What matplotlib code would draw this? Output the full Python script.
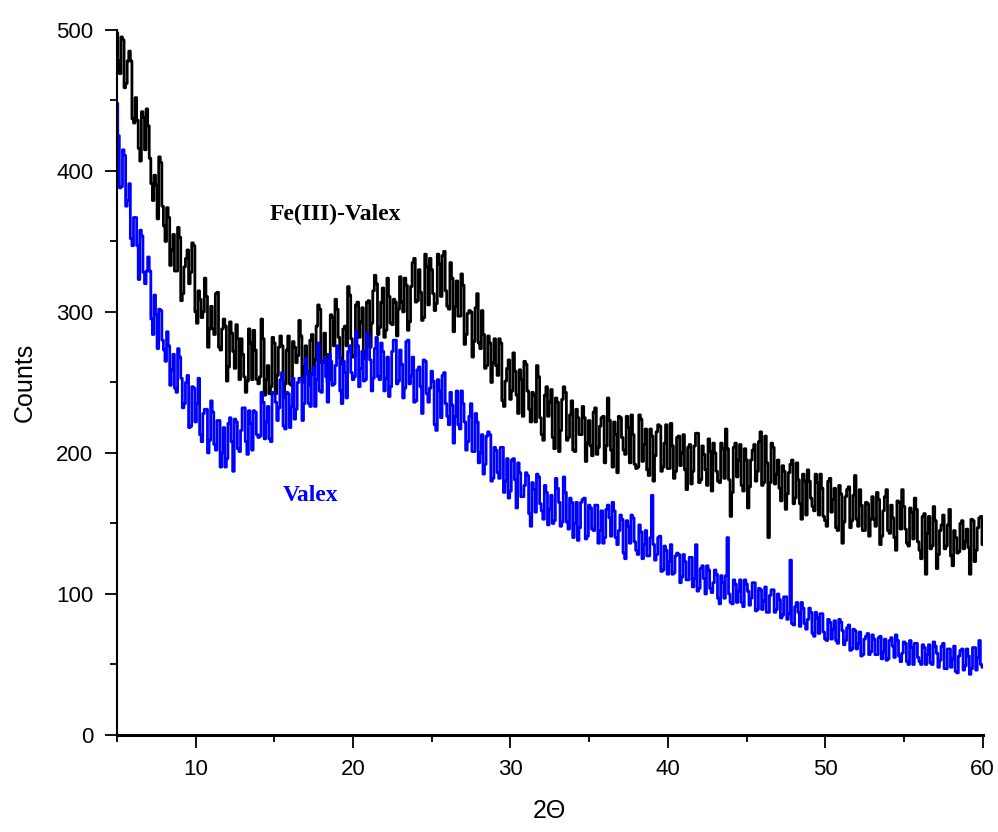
import matplotlib
matplotlib.use("Agg")
import matplotlib.pyplot as plt
from matplotlib.ticker import MultipleLocator
import numpy as np

# 2-theta scan, 5..60 deg in 0.1 deg steps (551 points)
two_theta = np.linspace(5.0, 60.0, 551)

# Fe(III)-Valex counts
fe_valex = [
    498, 478, 469, 495, 493, 459, 462, 478, 485, 478, 437, 434, 452, 436, 416, 407, 442, 438, 415, 444,
    432, 409, 391, 379, 397, 390, 366, 410, 406, 375, 361, 350, 374, 367, 333, 344, 355, 329, 329, 360,
    353, 308, 313, 332, 338, 344, 320, 328, 349, 347, 300, 292, 315, 309, 296, 300, 324, 311, 275, 288,
    304, 288, 284, 313, 314, 275, 273, 288, 295, 290, 251, 261, 293, 285, 272, 260, 291, 281, 252, 281,
    270, 254, 243, 251, 288, 278, 252, 287, 273, 252, 249, 254, 295, 281, 241, 252, 262, 242, 247, 282,
    278, 242, 255, 275, 283, 276, 239, 249, 273, 283, 249, 248, 279, 275, 264, 269, 294, 283, 250, 261,
    276, 256, 248, 280, 284, 256, 266, 290, 305, 302, 264, 264, 285, 270, 250, 252, 298, 296, 276, 309,
    302, 282, 267, 263, 288, 290, 276, 318, 312, 281, 268, 269, 305, 307, 282, 293, 303, 272, 267, 307,
    308, 275, 292, 315, 326, 320, 284, 289, 307, 317, 282, 287, 324, 311, 292, 291, 309, 307, 283, 302,
    325, 307, 300, 324, 319, 287, 293, 318, 335, 338, 307, 308, 330, 314, 294, 296, 341, 332, 305, 338,
    330, 313, 301, 306, 341, 334, 311, 340, 343, 315, 304, 302, 335, 324, 286, 304, 322, 297, 297, 327,
    319, 277, 284, 299, 301, 300, 268, 279, 303, 313, 278, 274, 301, 284, 260, 262, 283, 278, 250, 264,
    281, 262, 255, 281, 278, 237, 233, 251, 260, 266, 238, 244, 271, 258, 241, 228, 259, 252, 226, 265,
    263, 244, 231, 222, 243, 241, 222, 262, 254, 225, 213, 209, 241, 247, 226, 236, 245, 211, 203, 239,
    236, 201, 216, 238, 247, 243, 209, 211, 227, 237, 202, 201, 231, 225, 213, 213, 233, 225, 194, 207,
    223, 205, 198, 229, 232, 199, 204, 219, 225, 226, 193, 205, 239, 223, 202, 190, 222, 213, 186, 226,
    225, 211, 202, 199, 226, 218, 193, 227, 213, 192, 189, 190, 227, 224, 194, 206, 217, 188, 184, 217,
    212, 180, 198, 215, 220, 219, 187, 190, 207, 220, 189, 189, 221, 205, 182, 187, 211, 212, 191, 200,
    213, 188, 174, 204, 206, 178, 187, 205, 214, 214, 179, 181, 205, 199, 188, 177, 210, 201, 173, 207,
    200, 187, 180, 179, 207, 203, 182, 217, 203, 181, 155, 172, 204, 207, 183, 195, 206, 177, 173, 203,
    195, 161, 176, 195, 202, 206, 180, 187, 208, 215, 177, 179, 212, 193, 140, 179, 207, 204, 178, 185,
    195, 175, 166, 191, 187, 160, 171, 186, 192, 195, 164, 168, 193, 181, 164, 153, 185, 180, 156, 188,
    180, 168, 162, 159, 185, 179, 156, 185, 175, 155, 152, 148, 180, 182, 158, 167, 175, 147, 145, 177,
    171, 136, 151, 169, 174, 176, 147, 152, 170, 184, 153, 148, 174, 163, 145, 145, 165, 164, 141, 153,
    169, 153, 148, 172, 167, 135, 141, 159, 169, 174, 145, 143, 163, 154, 140, 131, 166, 165, 146, 174,
    162, 146, 136, 134, 161, 158, 139, 168, 160, 137, 131, 125, 155, 157, 114, 143, 155, 132, 134, 162,
    152, 118, 128, 145, 149, 156, 132, 134, 149, 160, 127, 120, 145, 140, 129, 130, 150, 152, 132, 137,
    146, 133, 114, 153, 152, 123, 131, 147, 154, 155, 135,
]

# Valex counts
valex = [
    448, 425, 388, 389, 415, 411, 375, 379, 391, 352, 347, 367, 367, 347, 323, 358, 354, 328, 320, 329,
    339, 329, 295, 284, 312, 298, 274, 302, 301, 280, 273, 265, 286, 276, 248, 259, 270, 246, 243, 274,
    268, 253, 232, 235, 250, 255, 218, 219, 247, 246, 222, 235, 253, 213, 208, 228, 231, 231, 200, 209,
    237, 229, 206, 202, 223, 223, 190, 200, 218, 190, 196, 221, 225, 208, 187, 224, 222, 203, 201, 216,
    232, 232, 208, 199, 230, 221, 202, 230, 229, 213, 211, 212, 243, 236, 210, 222, 233, 210, 208, 243,
    242, 236, 223, 232, 252, 257, 219, 217, 243, 242, 218, 233, 253, 224, 231, 250, 253, 253, 223, 235,
    267, 258, 235, 233, 256, 261, 233, 252, 278, 244, 243, 265, 267, 254, 236, 270, 265, 248, 249, 262,
    276, 272, 244, 235, 265, 257, 239, 272, 276, 257, 252, 254, 286, 276, 247, 260, 272, 251, 252, 285,
    282, 266, 244, 253, 274, 282, 254, 252, 278, 272, 244, 253, 268, 240, 247, 272, 280, 280, 249, 251,
    273, 263, 239, 246, 279, 280, 249, 255, 268, 236, 237, 259, 261, 247, 228, 266, 265, 242, 236, 246,
    258, 251, 220, 216, 252, 244, 225, 255, 257, 235, 226, 220, 243, 234, 207, 226, 244, 220, 217, 244,
    235, 222, 202, 208, 226, 235, 201, 201, 228, 222, 193, 200, 213, 185, 192, 212, 215, 213, 180, 182,
    204, 202, 186, 182, 204, 204, 172, 180, 196, 168, 173, 195, 196, 181, 161, 193, 186, 169, 169, 177,
    186, 184, 157, 148, 179, 174, 158, 185, 183, 164, 159, 153, 177, 172, 149, 160, 170, 150, 152, 182,
    175, 165, 148, 151, 183, 172, 151, 146, 168, 165, 140, 150, 165, 138, 147, 165, 167, 168, 139, 141,
    163, 161, 146, 145, 163, 163, 136, 145, 159, 136, 140, 160, 163, 154, 141, 165, 159, 140, 135, 145,
    156, 153, 129, 125, 152, 148, 136, 156, 154, 137, 131, 128, 149, 144, 125, 135, 145, 127, 127, 140,
    170, 135, 124, 128, 140, 141, 116, 117, 134, 131, 114, 123, 135, 114, 115, 127, 129, 128, 108, 112,
    128, 123, 110, 110, 126, 126, 105, 111, 135, 102, 104, 118, 120, 111, 100, 120, 117, 104, 101, 108,
    117, 114, 97, 93, 113, 108, 97, 113, 140, 100, 94, 93, 110, 107, 94, 102, 110, 94, 91, 110,
    107, 102, 92, 97, 108, 108, 88, 89, 104, 103, 89, 95, 105, 87, 87, 99, 103, 103, 87, 89,
    100, 96, 83, 85, 98, 98, 82, 86, 124, 79, 78, 91, 94, 87, 77, 94, 90, 79, 75, 82,
    90, 87, 72, 70, 87, 83, 72, 86, 86, 73, 68, 67, 82, 80, 68, 75, 81, 67, 65, 82,
    80, 74, 64, 67, 76, 78, 60, 61, 75, 74, 61, 65, 73, 56, 57, 68, 70, 72, 57, 59,
    71, 68, 57, 57, 69, 70, 54, 59, 68, 53, 54, 67, 69, 63, 55, 71, 67, 56, 52, 58,
    66, 65, 52, 50, 67, 62, 50, 65, 65, 55, 52, 50, 64, 62, 50, 57, 64, 51, 50, 66,
    63, 58, 48, 53, 63, 65, 47, 47, 61, 61, 48, 54, 63, 45, 44, 56, 60, 61, 46, 49,
    61, 56, 43, 47, 62, 62, 46, 55, 67, 50, 48,
]

x_ticks = [10, 20, 30, 40, 50, 60]
y_ticks = [0, 100, 200, 300, 400, 500]

tick_font = ["Liberation Sans Narrow", "Liberation Sans", "DejaVu Sans"]

fig = plt.figure(figsize=(9.98, 8.32), dpi=100)
ax = fig.add_axes([0.1172, 0.1166, 0.8675, 0.8474])

ax.plot(two_theta, fe_valex, color="black", lw=2.0, drawstyle="steps-mid")
ax.plot(two_theta, valex, color="#0000ff", lw=2.0, drawstyle="steps-mid")

ax.set_xlim(5, 60)
ax.set_ylim(0, 500)

ax.spines["top"].set_visible(False)
ax.spines["right"].set_visible(False)
ax.spines["left"].set_linewidth(1.5)
ax.spines["bottom"].set_linewidth(2.2)

ax.set_xticks(x_ticks)
ax.set_yticks(y_ticks)
ax.xaxis.set_minor_locator(MultipleLocator(5))
ax.yaxis.set_minor_locator(MultipleLocator(50))
ax.tick_params(which="major", direction="out", length=9, width=1.3, pad=8)
ax.tick_params(which="minor", direction="out", length=5, width=1.3)

for lab in ax.get_xticklabels() + ax.get_yticklabels():
    lab.set_family(tick_font)
    lab.set_fontsize(16)

ax.set_xlabel("2Θ", family=tick_font, fontsize=18, labelpad=14)
ax.set_ylabel("Counts", family=tick_font, fontsize=18, labelpad=14)

ax.text(14.7, 369, "Fe(III)-Valex", family=["Liberation Serif", "DejaVu Serif"],
        fontweight="bold", fontsize=17, color="black", va="center", ha="left")
ax.text(15.5, 170, "Valex", family=["Liberation Serif", "DejaVu Serif"],
        fontweight="bold", fontsize=17, color="#0000ff", va="center", ha="left")

fig.savefig("out.png", dpi=100)
